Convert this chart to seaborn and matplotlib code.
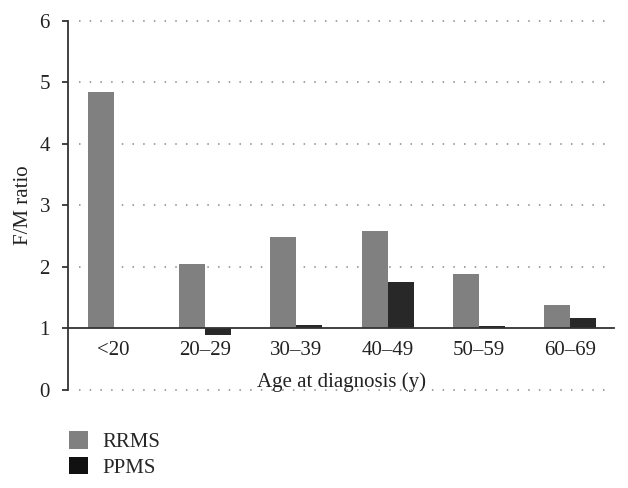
import matplotlib
matplotlib.use("Agg")
import matplotlib.pyplot as plt
import seaborn as sns
import pandas as pd
import numpy as np

categories = ["<20", "20–29", "30–39", "40–49", "50–59", "60–69"]
rrms = [4.85, 2.05, 2.48, 2.58, 1.88, 1.38]
ppms = [np.nan, 0.88, 1.05, 1.75, 1.04, 1.16]
series = ["RRMS", "PPMS"]
y_ticks = [0, 1, 2, 3, 4, 5, 6]

df = pd.DataFrame({
    "age": categories * 2,
    "series": [series[0]] * len(categories) + [series[1]] * len(categories),
    "ratio": rrms + ppms,
})
df["height"] = df["ratio"] - 1.0

sns.set_theme(style="white")
plt.rcParams["font.family"] = ["Liberation Serif", "DejaVu Serif"]

fs = 15
fig = plt.figure(figsize=(6.28, 4.88), dpi=100)
ax = fig.add_axes([0.1083, 0.2018, 0.978 - 0.1083, 0.957 - 0.2018])

palette = {"RRMS": "#808080", "PPMS": "#282828"}
sns.barplot(data=df.dropna(), x="age", y="height", hue="series", order=categories,
            hue_order=series, palette=palette, width=0.57, bottom=1.0,
            saturation=1, ax=ax, legend=False, linewidth=0)

ax.set_ylim(0, 6)
ax.set_xlim(-0.5, 5.48)
ax.set_yticks(y_ticks)
ax.set_yticklabels([str(t) for t in y_ticks], fontsize=fs, color="#222222")

for y in y_ticks:
    if y != 1:
        ax.axhline(y, xmin=0.02, xmax=0.988, color="#888888", lw=1.1,
                   linestyle=(0, (1, 6)), zorder=0, clip_on=False)

for s in ["top", "right"]:
    ax.spines[s].set_visible(False)
ax.spines["left"].set_color("#333333")
ax.spines["left"].set_linewidth(1.3)
ax.spines["bottom"].set_position(("data", 1))
ax.spines["bottom"].set_color("#333333")
ax.spines["bottom"].set_linewidth(1.3)
ax.spines["bottom"].set_zorder(5)

ax.tick_params(axis="y", left=True, length=4, width=1.3, color="#333333", pad=9)
ax.tick_params(axis="x", bottom=False, length=0, pad=9, labelsize=fs,
               labelcolor="#222222")

ax.set_xlabel("Age at diagnosis (y)", fontsize=fs, color="#222222", labelpad=9)
ax.set_ylabel("F/M ratio", fontsize=fs, color="#222222", labelpad=5)

from matplotlib.patches import Patch
handles = [Patch(facecolor="#808080", edgecolor="none"),
           Patch(facecolor="#111111", edgecolor="none")]
fig.legend(handles, series, loc="upper left", bbox_to_anchor=(0.097, 1 - 423 / 488),
           frameon=False, fontsize=fs, handlelength=0.9, handleheight=0.9,
           handletextpad=0.7, labelspacing=0.22, borderaxespad=0)

fig.savefig("out.png", dpi=100)
